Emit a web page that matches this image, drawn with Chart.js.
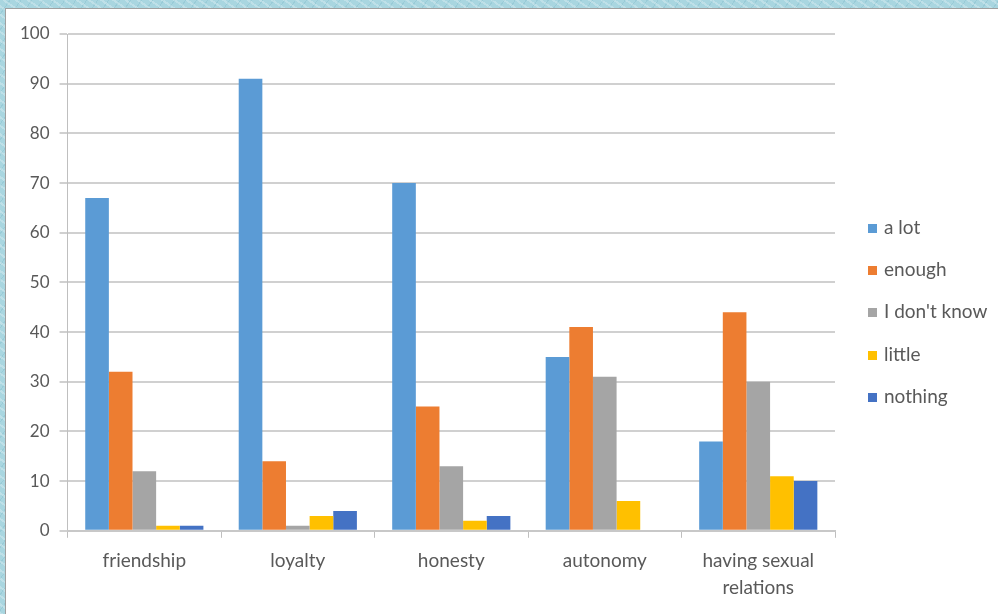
<!DOCTYPE html>
<html>
<head>
<meta charset="utf-8">
<script src="https://cdn.jsdelivr.net/npm/chart.js@4"></script>
<style>
    html, body { margin: 0; padding: 0; }
    body {
        width: 998px;
        height: 614px;
        overflow: hidden;
        background-color: #a9d6e0;
        background-image:
            repeating-linear-gradient(35deg, rgba(255,255,255,0.25) 0 2px, transparent 2px 7px),
            repeating-linear-gradient(-55deg, rgba(90,160,180,0.2) 0 1px, transparent 1px 9px);
        position: relative;
        font-family: Lato, sans-serif;
    }
    #panel {
        position: absolute;
        left: 5px;
        top: 8px;
        width: 995px;
        height: 610px;
        background: #fff;
        border: 1px solid #a0a0a0;
    }
    #chart-wrap {
        position: absolute;
        left: 0;
        top: 0;
        width: 993px;
        height: 602px;
    }
    #legend {
        position: absolute;
        left: 862px;
        top: 197px;
        margin: 0;
        padding: 0;
        list-style: none;
        color: #595959;
        font-size: 19px;
    }
    #legend li {
        height: 42.2px;
        line-height: 42px;
        white-space: nowrap;
    }
    #legend .swatch {
        display: inline-block;
        width: 9px;
        height: 9px;
        margin-right: 7px;
        vertical-align: 1px;
    }
</style>
</head>
<body>
<div id="panel">
    <div id="chart-wrap"><canvas id="values-chart"></canvas></div>
    <ul id="legend"></ul>
</div>
<script>
const categories = ['friendship', 'loyalty', 'honesty', 'autonomy', ['having sexual', 'relations']];
const seriesNames = ['a lot', 'enough', "I don't know", 'little', 'nothing'];
const aLot = [67, 91, 70, 35, 18];
const enough = [32, 14, 25, 41, 44];
const dontKnow = [12, 1, 13, 31, 30];
const little = [1, 3, 2, 6, 11];
const nothing = [1, 4, 3, 0, 10];
const seriesColors = ['#5b9bd5', '#ed7d31', '#a5a5a5', '#ffc000', '#4472c4'];
const yTicks = [0, 10, 20, 30, 40, 50, 60, 70, 80, 90, 100];

const seriesValues = [aLot, enough, dontKnow, little, nothing];
const textColor = '#595959';

const chartCanvas = document.getElementById('values-chart');
const legendList = document.getElementById('legend');

// legend is plain html so it can sit where the original one does
seriesNames.forEach((name, i) => {
    const item = document.createElement('li');
    const swatch = document.createElement('span');
    swatch.className = 'swatch';
    swatch.style.background = seriesColors[i];
    item.appendChild(swatch);
    item.appendChild(document.createTextNode(name));
    legendList.appendChild(item);
});

new Chart(chartCanvas, {
    type: 'bar',
    data: {
        labels: categories,
        datasets: seriesNames.map((name, i) => ({
            label: name,
            data: seriesValues[i],
            backgroundColor: seriesColors[i],
            borderWidth: 0,
            barPercentage: 1,
            categoryPercentage: 0.77
        }))
    },
    options: {
        responsive: true,
        maintainAspectRatio: false,
        animation: false,
        layout: {
            padding: { left: 4, right: 164, top: 25, bottom: 0 }
        },
        plugins: {
            legend: { display: false },
            tooltip: { enabled: false }
        },
        scales: {
            y: {
                min: 0,
                max: 100,
                afterBuildTicks: (axis) => {
                    axis.ticks = yTicks.map((v) => ({ value: v }));
                },
                border: { display: true, color: '#bfbfbf', width: 1 },
                grid: {
                    color: '#d0d0d0',
                    lineWidth: 2,
                    tickLength: 8,
                    tickColor: '#d0d0d0'
                },
                ticks: {
                    padding: 10,
                    color: textColor,
                    font: { family: 'Lato', size: 17 }
                }
            },
            x: {
                offset: true,
                border: { display: true, color: '#c8c8c8', width: 2 },
                grid: {
                    display: true,
                    drawOnChartArea: false,
                    offset: true,
                    tickLength: 7,
                    tickColor: '#bfbfbf'
                },
                ticks: {
                    padding: 10,
                    color: textColor,
                    maxRotation: 0,
                    font: { family: 'Lato', size: 19, lineHeight: 1.4 }
                }
            }
        }
    }
});
</script>
</body>
</html>
